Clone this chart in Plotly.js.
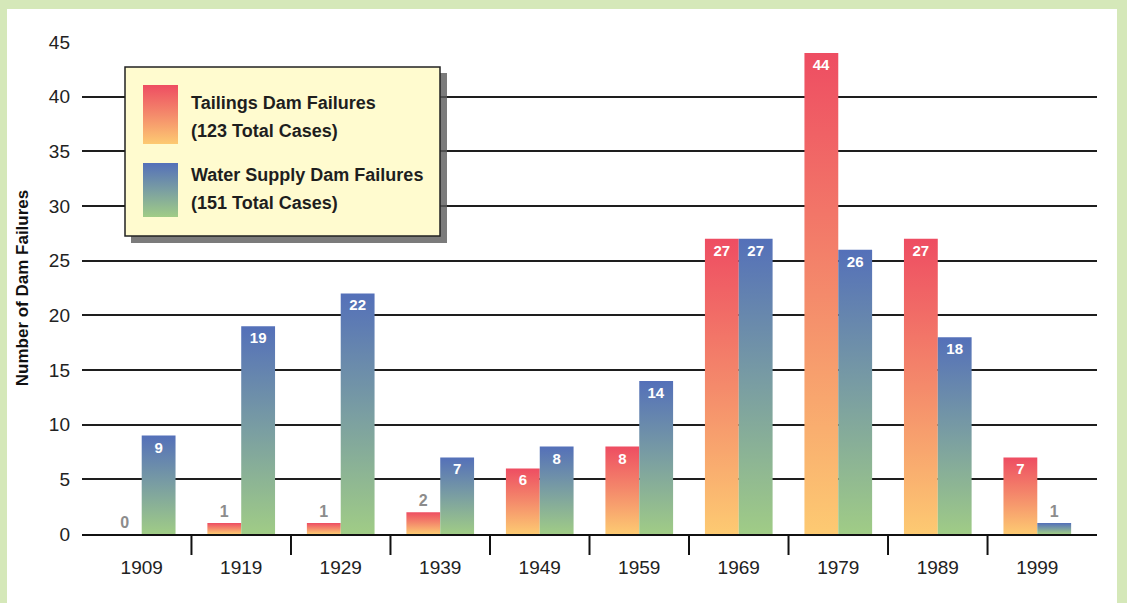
<!DOCTYPE html>
<html><head><meta charset="utf-8">
<script src="https://cdn.plot.ly/plotly-3.0.1.min.js"></script>
<style>
html,body{margin:0;padding:0;background:#d5e8b9;width:1127px;height:603px;overflow:hidden;}
#chart{position:absolute;left:7px;top:9px;width:1110px;height:594px;background:#fff;}
</style></head><body><div id="chart"></div>
<script>
const years = ['1909','1919','1929','1939','1949','1959','1969','1979','1989','1999'];
const tailings = [0,1,1,2,6,8,27,44,27,7];
const water = [9,19,22,7,8,14,27,26,18,1];
const seriesNames = ['Tailings Dam Failures','Water Supply Dam Failures'];

const sum = a => a.reduce((s,v)=>s+v,0);
const REG = '"Liberation Sans",Arial,Helvetica,sans-serif';

function barTrace(vals, name){
  return {
    type:'bar', x:years, y:vals, name:name, showlegend:false,
    text: vals.map(v=>'<b>'+v+'</b>'),
    textposition: vals.map(v=> v>=5 ? 'inside':'outside'),
    insidetextanchor:'end',
    constraintext:'none',
    cliponaxis:false,
    textfont:{family:REG, size:vals.map(v=> v>=5?15:16), color:vals.map(v=> v>=5?'#ffffff':'#8c8c8c')},
    marker:{color:'#f07a66', line:{width:0}},
    hoverinfo:'none'
  };
}
const data = [barTrace(tailings, seriesNames[0]), barTrace(water, seriesNames[1])];

// page-pixel -> paper helpers (plot area on page: x 82..1097, y 42..534)
const px = X => (X-82)/1015;
const py = Y => (534-Y)/492;

const shapes = [];
// tick marks between categories
for(let i=0;i<years.length-1;i++){
  shapes.push({type:'line', xref:'x', yref:'paper', x0:i+0.5, x1:i+0.5, ysizemode:'pixel', yanchor:0, y0:0, y1:-21,
    line:{color:'#111', width:2}, layer:'above'});
}
// legend shadow, box, swatches
shapes.push({type:'rect', xref:'paper', yref:'paper', x0:px(131), x1:px(447), y0:py(243), y1:py(73), fillcolor:'#5a5a5a', opacity:0.8, line:{width:0}, layer:'above'});
shapes.push({type:'rect', xref:'paper', yref:'paper', x0:px(125), x1:px(440), y0:py(236), y1:py(67), fillcolor:'#fffbcf', line:{color:'#222', width:1.5}, layer:'above'});
const swatchStart = shapes.length;
shapes.push({type:'rect', xref:'paper', yref:'paper', x0:px(143), x1:px(178), y0:py(144), y1:py(85), fillcolor:'#f07a66', line:{width:0}, layer:'above'});
shapes.push({type:'rect', xref:'paper', yref:'paper', x0:px(143), x1:px(178), y0:py(217), y1:py(163), fillcolor:'#7a9ea2', line:{width:0}, layer:'above'});

const legFont = {family:REG, size:18, color:'#1e1e1e'};
const annotations = [
  {text:'<b>'+seriesNames[0]+'</b>', x:px(189), y:py(103)},
  {text:'<b>('+sum(tailings)+' Total Cases)</b>', x:px(189), y:py(131)},
  {text:'<b>'+seriesNames[1]+'</b>', x:px(189), y:py(175)},
  {text:'<b>('+sum(water)+' Total Cases)</b>', x:px(189), y:py(203)}
].map(a=>Object.assign({xref:'paper', yref:'paper', xanchor:'left', yanchor:'middle', showarrow:false, font:legFont}, a));

const layout = {
  width:1110, height:594,
  margin:{l:75, r:20, t:33, b:69, pad:0},
  paper_bgcolor:'#ffffff', plot_bgcolor:'#ffffff',
  barmode:'group', bargap:0.32, bargroupgap:0,
  showlegend:false,
  xaxis:{type:'category', range:[-0.6, years.length-0.4], showgrid:false, zeroline:false,
    showline:true, linecolor:'#111', linewidth:2, ticks:'', ticklabelstandoff:15,
    tickfont:{family:REG, size:19, color:'#222'}, fixedrange:true},
  yaxis:{range:[0,45], dtick:5, tick0:0, showgrid:true, gridcolor:'#1e1e1e', gridwidth:2, zeroline:false,
    showline:false, ticks:'', ticklabelstandoff:11,
    tickfont:{family:REG, size:19, color:'#222'},
    title:{text:'<b>Number of Dam Failures</b>', font:{family:REG, size:17, color:'#111'}, standoff:15}, fixedrange:true},
  shapes:shapes, annotations:annotations
};

Plotly.newPlot('chart', data, layout, {staticPlot:true, displayModeBar:false}).then(gd=>{
  const svg = gd.querySelector('svg.main-svg');
  const ns = 'http://www.w3.org/2000/svg';
  const defs = document.createElementNS(ns,'defs');
  function grad(id, stops){
    const g = document.createElementNS(ns,'linearGradient');
    g.setAttribute('id', id); g.setAttribute('x1','0'); g.setAttribute('y1','0'); g.setAttribute('x2','0'); g.setAttribute('y2','1');
    stops.forEach(([o,c])=>{const s=document.createElementNS(ns,'stop'); s.setAttribute('offset',o); s.setAttribute('stop-color',c); g.appendChild(s);});
    defs.appendChild(g);
  }
  grad('gradT', [['0','#ee4d62'],['0.5','#f48a6b'],['1','#fdca72']]);
  grad('gradW', [['0','#5470b9'],['0.5','#7a9ea2'],['1','#a0cc86']]);
  svg.insertBefore(defs, svg.firstChild);
  const traces = gd.querySelectorAll('.barlayer .trace');
  if(traces[0]) traces[0].querySelectorAll('path').forEach(p=>p.style.setProperty('fill','url(#gradT)'));
  if(traces[1]) traces[1].querySelectorAll('path').forEach(p=>p.style.setProperty('fill','url(#gradW)'));
  const sw = [['gradT',swatchStart],['gradW',swatchStart+1]];
  sw.forEach(([g,idx])=>{
    gd.querySelectorAll('.shapelayer path[data-index="'+idx+'"]').forEach(p=>p.style.setProperty('fill','url(#'+g+')'));
  });
});
</script></body></html>
